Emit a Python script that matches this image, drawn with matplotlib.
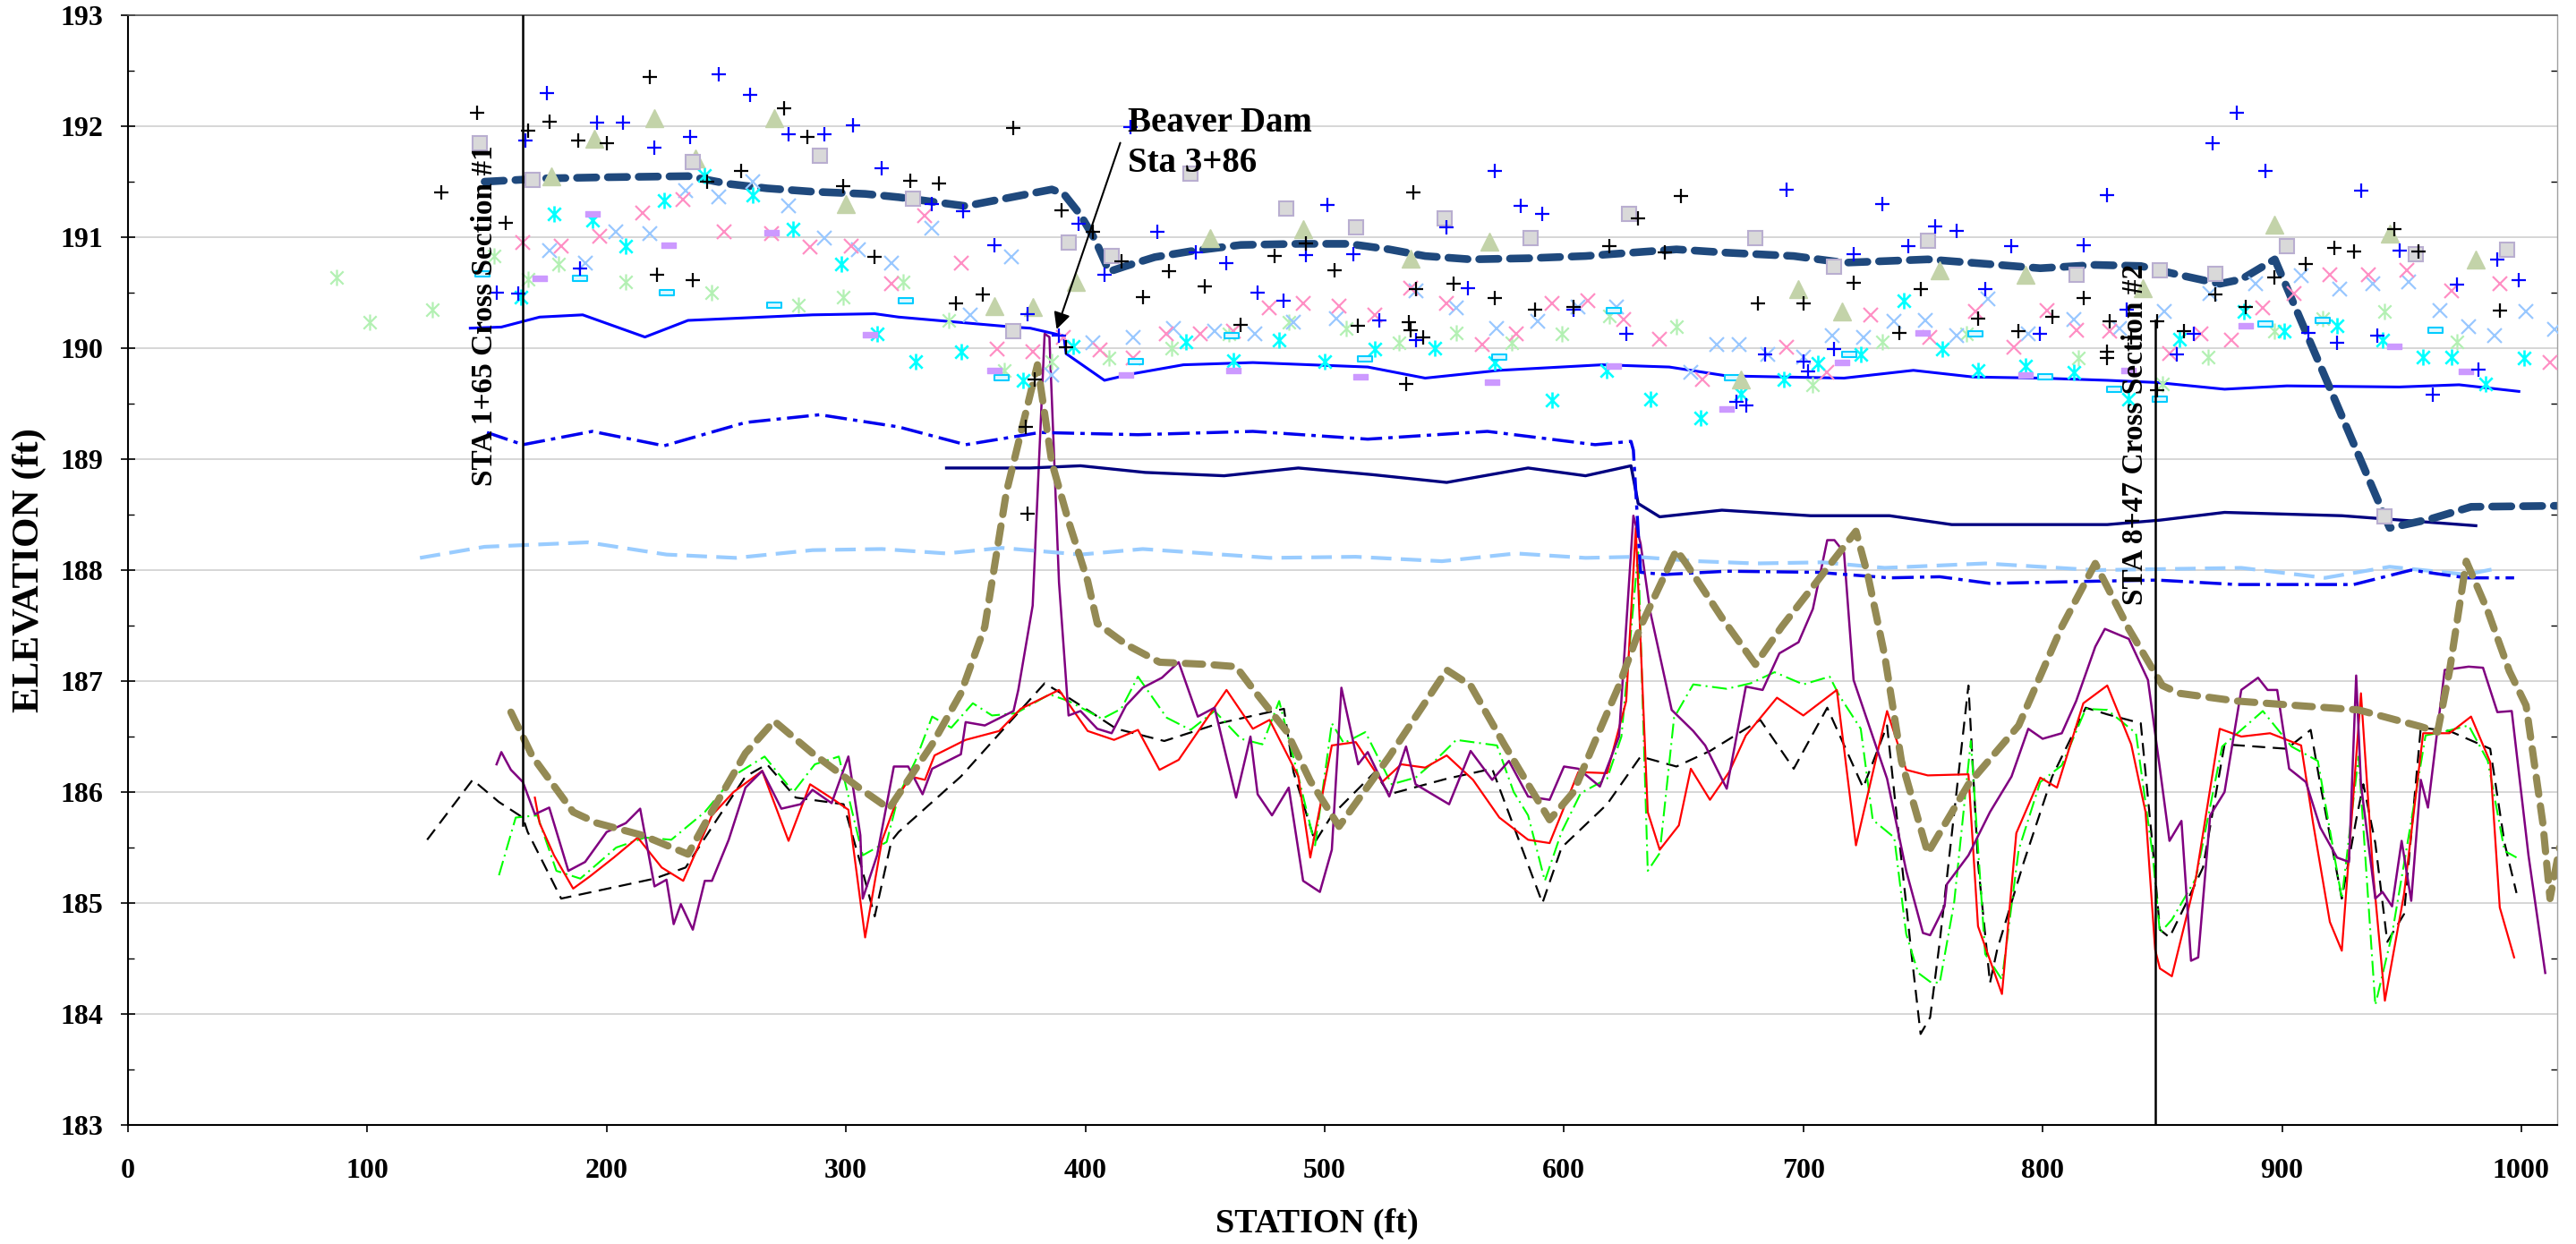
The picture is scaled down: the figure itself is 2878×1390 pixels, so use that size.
import matplotlib
matplotlib.use('Agg')
import matplotlib.pyplot as plt
from matplotlib.path import Path
from matplotlib.ticker import MultipleLocator

plt.rc('font', family=['Liberation Serif', 'DejaVu Serif'], weight='bold')

# ---- water surface profiles -------------------------------------------------
ws_high_sta = [149, 175, 200, 234, 251, 267, 286, 308, 322, 336, 350, 362, 386, 391, 398, 404, 410, 417,
               429, 446, 465, 489, 510, 527, 542, 561, 585, 609, 647, 668, 696, 717, 729, 752, 776, 799,
               822, 841, 857, 874, 883, 897, 945, 962, 979, 1018]
ws_high_elev = [191.50, 191.53, 191.54, 191.55, 191.48, 191.44, 191.41, 191.39, 191.36, 191.32, 191.28,
                191.33, 191.43, 191.39, 191.20, 190.98, 190.69, 190.74, 190.82, 190.88, 190.93, 190.94,
                190.94, 190.89, 190.83, 190.80, 190.81, 190.83, 190.89, 190.86, 190.83, 190.77, 190.78,
                190.80, 190.76, 190.72, 190.75, 190.74, 190.66, 190.58, 190.62, 190.80, 188.38, 188.46,
                188.57, 188.58]

ws_190_sta = [143, 156, 172, 190, 216, 234, 286, 312, 322, 370, 377, 391, 392, 408, 420, 441, 470, 494,
              518, 542, 573, 616, 644, 668, 717, 746, 771, 799, 827, 848, 876, 902, 949, 974, 999]
ws_190_elev = [190.18, 190.19, 190.28, 190.30, 190.10, 190.25, 190.30, 190.31, 190.28, 190.19, 190.18,
               190.11, 189.95, 189.71, 189.77, 189.85, 189.87, 189.85, 189.83, 189.73, 189.80, 189.85,
               189.83, 189.75, 189.73, 189.80, 189.74, 189.73, 189.71, 189.69, 189.63, 189.66, 189.65,
               189.67, 189.61]

ws_189_sta = [150, 165, 194, 224, 258, 289, 322, 350, 381, 422, 470, 518, 568, 613, 628, 629, 632, 642,
              668, 706, 736, 757, 778, 822, 848, 881, 921, 930, 954, 977, 997]
ws_189_elev = [189.24, 189.13, 189.25, 189.12, 189.33, 189.40, 189.29, 189.13, 189.24, 189.22, 189.25,
               189.18, 189.25, 189.13, 189.16, 189.08, 187.98, 187.96, 187.99, 187.98, 187.93, 187.94,
               187.88, 187.90, 187.91, 187.87, 187.87, 187.87, 188.00, 187.93, 187.93]

ws_1885_sta = [342, 377, 398, 425, 458, 489, 520, 551, 585, 609, 628, 631, 640, 666, 703, 736, 762, 827,
               849, 876, 925, 981]
ws_1885_elev = [188.92, 188.92, 188.94, 188.88, 188.85, 188.92, 188.86, 188.79, 188.92, 188.85, 188.94,
                188.60, 188.48, 188.54, 188.49, 188.49, 188.41, 188.41, 188.45, 188.52, 188.49, 188.40]

ws_188_sta = [122, 149, 192, 225, 254, 286, 315, 342, 365, 398, 424, 477, 513, 549, 580, 609, 630, 656,
              680, 708, 734, 776, 822, 883, 918, 945, 977, 991]
ws_188_elev = [188.11, 188.21, 188.25, 188.14, 188.11, 188.18, 188.19, 188.15, 188.20, 188.14, 188.19,
               188.11, 188.12, 188.08, 188.15, 188.11, 188.12, 188.08, 188.06, 188.07, 188.02, 188.06,
               188.00, 188.02, 187.93, 188.03, 187.96, 188.02]

# ---- thalweg / bed profiles ----------------------------------------------------
olive_sta = [160, 169, 186, 196, 215, 234, 243, 258, 270, 286, 306, 318, 336, 348, 358, 367, 380, 386,
             393, 401, 405, 417, 431, 451, 463, 470, 484, 494, 506, 527, 551, 561, 575, 585, 594, 604,
             613, 623, 632, 647, 651, 666, 680, 691, 722, 727, 734, 741, 752, 769, 790, 808, 822, 836,
             850, 857, 881, 906, 932, 958, 965, 970, 977, 986, 995, 1002, 1009, 1012, 1016]
olive_elev = [186.72, 186.32, 185.82, 185.72, 185.61, 185.44, 185.79, 186.35, 186.64, 186.35, 186.03,
              185.85, 186.43, 186.89, 187.49, 188.70, 189.85, 188.97, 188.44, 187.90, 187.52, 187.33,
              187.17, 187.15, 187.13, 186.93, 186.55, 186.10, 185.69, 186.32, 187.10, 186.96, 186.43,
              186.07, 185.75, 186.00, 186.46, 186.96, 187.49, 188.18, 188.06, 187.57, 187.15, 187.49,
              188.35, 187.95, 187.23, 186.28, 185.45, 186.07, 186.60, 187.49, 188.06, 187.47, 186.96,
              186.89, 186.82, 186.78, 186.74, 186.59, 186.54, 187.09, 188.08, 187.63, 187.09, 186.78,
              185.72, 185.04, 185.50]

purple_sta = [154, 156, 160, 165, 170, 176, 184, 191, 200, 208, 214, 220, 225, 228, 231, 236, 241, 244,
              251, 258, 265, 273, 281, 286, 294, 301, 306, 307, 313, 320, 326, 332, 336, 348, 350, 358,
              370, 372, 378, 383, 385, 389, 393, 398, 405, 411, 417, 424, 432, 439, 447, 454, 463, 469,
              472, 478, 485, 491, 498, 503, 507, 514, 518, 527, 534, 538, 552, 561, 570, 577, 585, 594,
              600, 606, 615, 623, 629, 632, 636, 645, 654, 659, 668, 676, 683, 690, 698, 704, 710, 713,
              717, 721, 735, 743, 750, 753, 759, 760, 769, 778, 787, 794, 800, 808, 814, 822, 826, 836,
              844, 849, 853, 858, 862, 865, 870, 876, 883, 890, 894, 898, 903, 910, 916, 923, 928, 931,
              933, 939, 942, 946, 950, 954, 958, 961, 968, 978, 984, 990, 996, 1003, 1010]
purple_elev = [186.25, 186.36, 186.20, 186.09, 185.80, 185.86, 185.29, 185.37, 185.64, 185.72, 185.85,
               185.15, 185.21, 184.81, 184.99, 184.76, 185.20, 185.20, 185.57, 186.04, 186.19, 185.85,
               185.89, 186.02, 185.90, 186.32, 185.61, 185.04, 185.43, 186.23, 186.23, 185.98, 186.21,
               186.34, 186.63, 186.60, 186.73, 186.92, 187.68, 190.13, 190.10, 187.89, 186.69, 186.73,
               186.57, 186.53, 186.78, 186.94, 187.03, 187.17, 186.68, 186.76, 185.95, 186.50, 185.98,
               185.79, 186.04, 185.20, 185.10, 185.48, 186.94, 186.25, 186.36, 185.96, 186.41, 186.07,
               185.89, 186.37, 186.11, 186.28, 185.96, 185.93, 186.23, 186.21, 186.05, 186.50, 188.49,
               188.24, 187.63, 186.74, 186.55, 186.42, 186.03, 186.95, 186.92, 187.25, 187.35, 187.65,
               188.27, 188.27, 188.16, 187.01, 186.12, 185.29, 184.73, 184.71, 184.97, 185.17, 185.43,
               185.82, 186.14, 186.57, 186.48, 186.53, 186.82, 187.31, 187.47, 187.38, 187.01, 186.21,
               185.56, 185.74, 184.48, 184.51, 185.79, 186.00, 186.92, 187.03, 186.92, 186.92, 186.21,
               186.09, 185.68, 185.41, 185.37, 187.05, 186.07, 185.04, 185.10, 184.97, 185.56, 185.02,
               186.11, 185.86, 187.10, 187.13, 187.12, 186.72, 186.73, 185.43, 184.37]

red_sta = [170, 172, 178, 186, 193, 203, 213, 223, 232, 244, 253, 265, 276, 285, 295, 301, 308, 315,
           322, 327, 333, 337, 350, 364, 373, 389, 401, 412, 422, 431, 439, 459, 470, 477, 489, 494,
           503, 513, 524, 532, 542, 551, 562, 573, 585, 594, 606, 618, 626, 630, 635, 640, 648, 653,
           661, 669, 676, 689, 700, 714, 722, 735, 743, 752, 769, 773, 783, 789, 799, 806, 817, 827,
           837, 843, 847, 849, 854, 864, 874, 883, 895, 908, 913, 920, 925, 933, 938, 943, 951, 959,
           970, 979, 987, 991, 997]
red_elev = [185.95, 185.72, 185.43, 185.13, 185.24, 185.41, 185.59, 185.32, 185.20, 185.79, 186.00,
            186.19, 185.56, 186.07, 185.93, 185.84, 184.69, 185.56, 185.97, 186.14, 186.11, 186.33,
            186.47, 186.55, 186.75, 186.92, 186.55, 186.47, 186.56, 186.20, 186.29, 186.92, 186.57,
            186.65, 186.14, 185.41, 186.42, 186.45, 186.09, 186.25, 186.22, 186.33, 186.11, 185.77,
            185.57, 185.54, 186.18, 186.17, 186.82, 188.38, 185.82, 185.48, 185.70, 186.21, 185.93,
            186.18, 186.51, 186.85, 186.69, 186.92, 185.52, 186.73, 186.20, 186.15, 186.16, 184.79,
            184.18, 185.63, 186.13, 186.04, 186.80, 186.96, 186.43, 185.82, 184.58, 184.41, 184.34,
            185.22, 186.57, 186.50, 186.53, 186.42, 185.72, 184.83, 184.57, 186.89, 185.29, 184.12,
            185.08, 186.53, 186.53, 186.68, 186.27, 184.96, 184.51]

green_sta = [155, 162, 171, 179, 189, 204, 216, 227, 241, 254, 266, 278, 287, 297, 307, 317, 322, 329,
             336, 344, 353, 361, 371, 385, 393, 407, 415, 422, 434, 444, 454, 465, 474, 481, 489, 496,
             503, 508, 517, 528, 538, 546, 555, 572, 579, 585, 592, 599, 607, 618, 624, 631, 635, 640,
             646, 654, 668, 678, 688, 700, 711, 715, 724, 729, 738, 743, 748, 753, 757, 763, 770, 776,
             783, 790, 799, 808, 818, 827, 839, 846, 849, 854, 864, 875, 892, 904, 915, 925, 932, 939,
             946, 953, 960, 967, 978, 986, 993, 998]
green_elev = [185.25, 185.77, 185.79, 185.29, 185.22, 185.50, 185.59, 185.57, 185.82, 186.16, 186.32,
              186.00, 186.25, 186.32, 185.43, 185.55, 185.97, 186.28, 186.68, 186.58, 186.80, 186.69,
              186.71, 186.88, 186.82, 186.66, 186.75, 187.04, 186.67, 186.56, 186.73, 186.48, 186.43,
              186.82, 186.14, 185.52, 186.62, 186.44, 186.54, 186.07, 186.13, 186.28, 186.47, 186.42,
              186.00, 185.79, 185.20, 185.64, 185.99, 186.12, 186.50, 188.16, 185.29, 185.45, 186.67,
              186.97, 186.93, 186.98, 187.08, 186.97, 187.04, 186.87, 186.57, 185.75, 185.59, 184.72,
              184.37, 184.29, 184.28, 185.00, 186.46, 184.54, 184.31, 185.48, 186.09, 186.24, 186.75,
              186.74, 186.53, 185.43, 184.73, 184.85, 185.22, 186.41, 186.73, 186.41, 186.28, 185.04,
              186.32, 184.08, 184.72, 185.61, 186.51, 186.54, 186.60, 186.28, 185.47, 185.41]

black_sta = [125, 144, 155, 165, 167, 181, 220, 233, 246, 258, 267, 279, 299, 306, 312, 319, 322, 348,
             383, 393, 413, 433, 456, 483, 487, 496, 503, 521, 527, 551, 570, 591, 599, 618, 632, 647,
             661, 682, 696, 710, 725, 735, 745, 749, 753, 757, 769, 773, 778, 781, 792, 804, 818, 827,
             841, 846, 849, 853, 860, 867, 876, 902, 912, 916, 925, 931, 934, 939, 944, 951, 958, 970,
             987, 993, 998]
black_elev = [185.57, 186.11, 185.91, 185.77, 185.64, 185.04, 185.22, 185.32, 185.75, 186.14, 186.25,
              185.95, 185.89, 185.36, 184.88, 185.56, 185.64, 186.14, 186.98, 186.85, 186.57, 186.46,
              186.62, 186.75, 186.18, 185.55, 185.79, 186.18, 185.98, 186.12, 186.21, 185.00, 185.50,
              185.89, 186.32, 186.23, 186.37, 186.65, 186.21, 186.76, 186.04, 186.60, 184.58, 183.82,
              183.97, 184.65, 186.96, 185.36, 184.28, 184.58, 185.36, 186.14, 186.76, 186.70, 186.62,
              185.50, 184.76, 184.69, 185.00, 185.32, 186.43, 186.39, 186.56, 186.07, 185.04, 185.75,
              186.07, 185.54, 184.65, 184.90, 186.58, 186.55, 186.39, 185.54, 185.09]

# ---- surveyed points -------------------------------------------------------------
pt_black_plus = [(146, 192.12), (131, 191.40), (167, 191.96), (176, 192.04), (188, 191.87), (200, 191.85),
                 (218, 192.44), (242, 191.50), (256, 191.60), (274, 192.16), (284, 191.90), (299, 191.46),
                 (312, 190.82), (158, 191.13), (221, 190.66), (236, 190.61), (327, 191.51), (339, 191.48),
                 (370, 191.98), (390, 191.24), (403, 191.05), (415, 190.78), (357, 190.48), (346, 190.40),
                 (379, 189.72), (392, 190.01), (435, 190.69), (424, 190.46), (450, 190.56), (465, 190.21),
                 (479, 190.83), (492, 190.94), (504, 190.70), (537, 191.40), (514, 190.20), (535, 190.23),
                 (536, 190.16), (541, 190.10), (534, 189.68), (538, 190.53), (554, 190.58), (571, 190.45),
                 (588, 190.35), (604, 190.37), (619, 190.92), (631, 191.17), (642, 190.86), (649, 191.37),
                 (375, 189.29), (376, 188.51), (681, 190.40), (700, 190.40), (721, 190.59), (749, 190.53),
                 (740, 190.14), (773, 190.27), (790, 190.15), (804, 190.28), (817, 190.45), (827, 189.97),
                 (827, 189.91), (828, 190.24), (837, 190.10), (848, 190.24), (848, 189.62), (859, 190.15),
                 (872, 190.48), (885, 190.37), (897, 190.64), (910, 190.76), (922, 190.90), (930, 190.87),
                 (947, 191.07), (957, 190.87), (991, 190.34)]
pt_blue_plus = [(175, 192.30), (166, 191.87), (196, 192.03), (207, 192.03), (220, 191.81), (235, 191.90),
                (247, 192.47), (260, 192.28), (276, 191.93), (291, 191.93), (303, 192.01), (315, 191.62),
                (189, 190.72), (154, 190.50), (163, 190.49), (419, 191.99), (336, 191.30), (349, 191.23),
                (362, 190.93), (397, 191.12), (408, 190.66), (430, 191.05), (446, 190.86), (459, 190.77),
                (501, 191.29), (492, 190.84), (512, 190.85), (551, 191.09), (571, 191.60), (582, 191.28),
                (591, 191.21), (472, 190.50), (483, 190.43), (523, 190.25), (538, 190.07), (560, 190.54),
                (604, 190.35), (626, 190.13), (389, 190.11), (376, 190.31), (693, 191.43), (733, 191.30),
                (755, 191.10), (764, 191.06), (744, 190.92), (721, 190.85), (787, 190.92), (817, 190.93),
                (827, 191.38), (776, 190.53), (799, 190.13), (835, 190.35), (856, 189.94), (863, 190.13),
                (871, 191.85), (881, 192.12), (893, 191.60), (933, 191.42), (949, 190.88), (973, 190.57),
                (990, 190.80), (999, 190.61), (911, 190.14), (923, 190.05), (940, 190.11), (982, 189.81),
                (963, 189.58), (713, 189.99), (700, 189.88), (702, 189.79), (684, 189.94), (672, 189.52),
                (676, 189.48)]
pt_square = [(147, 191.85), (169, 191.52), (236, 191.68), (289, 191.73), (328, 191.35), (393, 190.95),
             (411, 190.83), (370, 190.15), (444, 191.57), (484, 191.26), (513, 191.09), (550, 191.17),
             (586, 190.99), (627, 191.21), (680, 190.99), (713, 190.73), (752, 190.97), (814, 190.66),
             (849, 190.70), (872, 190.67), (902, 190.92), (956, 190.85), (994, 190.89), (943, 188.48)]
pt_triangle = [(177, 191.55), (195, 191.89), (220, 192.07), (237, 191.71), (270, 192.07), (300, 191.30),
               (362, 190.38), (378, 190.37), (396, 190.60), (452, 190.99), (491, 191.07), (536, 190.81),
               (569, 190.96), (674, 189.72), (698, 190.53), (716, 190.33), (757, 190.70), (793, 190.66),
               (842, 190.54), (897, 191.11), (945, 191.03), (981, 190.80)]
pt_pink_x = [(165, 190.95), (181, 190.92), (197, 191.01), (215, 191.22), (232, 191.34), (249, 191.05),
             (269, 191.03), (285, 190.91), (302, 190.92), (319, 190.58), (333, 191.19), (348, 190.77),
             (363, 189.99), (378, 189.97), (391, 190.10), (406, 189.98), (420, 189.91), (434, 190.13),
             (448, 190.13), (462, 190.15), (477, 190.36), (491, 190.40), (506, 190.38), (521, 190.30),
             (536, 190.54), (551, 190.40), (566, 190.03), (580, 190.13), (595, 190.40), (610, 190.43),
             (625, 190.26), (640, 190.08), (658, 189.72), (693, 190.01), (710, 189.78), (728, 190.30),
             (753, 190.10), (772, 190.33), (788, 190.01), (802, 190.34), (814, 190.16), (828, 190.15),
             (853, 189.95), (866, 190.13), (879, 190.07), (892, 190.36), (905, 190.49), (920, 190.66),
             (936, 190.66), (952, 190.70), (971, 190.52), (991, 190.58), (1012, 189.87)]
pt_ltblue_x = [(176, 190.88), (191, 190.77), (204, 191.05), (218, 191.03), (233, 191.42), (247, 191.36),
               (261, 191.50), (276, 191.28), (291, 190.99), (305, 190.89), (319, 190.77), (336, 191.08),
               (352, 190.30), (369, 190.82), (386, 189.76), (403, 190.05), (420, 190.10), (437, 190.18),
               (454, 190.15), (471, 190.13), (487, 190.23), (505, 190.27), (538, 190.52), (555, 190.36),
               (572, 190.18), (589, 190.24), (606, 190.37), (622, 190.37), (653, 189.78), (664, 190.03),
               (673, 190.03), (685, 189.94), (700, 189.92), (712, 190.11), (725, 190.10), (738, 190.24),
               (751, 190.25), (764, 190.11), (777, 190.44), (794, 190.13), (813, 190.26), (832, 190.18),
               (851, 190.33), (870, 190.49), (889, 190.58), (908, 190.65), (924, 190.53), (938, 190.58),
               (953, 190.60), (966, 190.34), (978, 190.19), (989, 190.11), (1002, 190.33), (1014, 190.17)]
pt_cyan_star = [(164, 190.46), (178, 191.21), (194, 191.15), (208, 190.92), (224, 191.33), (241, 191.56),
                (261, 191.38), (278, 191.07), (298, 190.76), (313, 190.13), (329, 189.88), (348, 189.97),
                (374, 189.71), (395, 190.02), (442, 190.06), (462, 189.89), (481, 190.07), (500, 189.88),
                (521, 189.99), (546, 190.00), (571, 189.87), (595, 189.53), (618, 189.80), (636, 189.54),
                (657, 189.37), (674, 189.59), (692, 189.72), (706, 189.86), (724, 189.94), (742, 190.43),
                (758, 189.99), (773, 189.80), (793, 189.84), (813, 189.78), (836, 189.54), (857, 190.08),
                (884, 190.33), (901, 190.15), (923, 190.20), (942, 190.07), (959, 189.92), (971, 189.92),
                (985, 189.68), (1001, 189.91)]
pt_green_star = [(87, 190.64), (101, 190.23), (127, 190.35), (153, 190.83), (167, 190.62), (180, 190.76),
                 (208, 190.60), (244, 190.50), (280, 190.39), (299, 190.46), (324, 190.60), (343, 190.25),
                 (366, 189.80), (386, 189.88), (410, 189.91), (436, 190.00), (460, 190.13), (485, 190.23),
                 (509, 190.18), (531, 190.05), (555, 190.14), (578, 190.05), (599, 190.13), (619, 190.29),
                 (647, 190.19), (704, 189.67), (733, 190.06), (768, 190.13), (815, 189.91), (850, 189.68),
                 (869, 189.92), (897, 190.15), (917, 190.27), (943, 190.33), (973, 190.06)]
pt_cyan_dash = [(148, 190.67), (189, 190.63), (225, 190.50), (270, 190.39), (325, 190.43), (365, 189.73),
                (421, 189.88), (461, 190.11), (517, 189.90), (573, 189.92), (621, 190.34), (670, 189.73),
                (719, 189.94), (772, 190.13), (801, 189.74), (830, 189.63), (849, 189.54), (893, 190.22),
                (917, 190.25), (964, 190.16)]
pt_lav_dash = [(172, 190.63), (194, 191.21), (226, 190.93), (269, 191.04), (310, 190.12), (362, 189.80),
               (417, 189.76), (462, 189.80), (515, 189.74), (570, 189.69), (621, 189.84), (668, 189.45),
               (716, 189.87), (750, 190.14), (793, 189.76), (836, 189.80), (885, 190.20), (947, 190.02),
               (977, 189.79)]

xs1_sta = 165
xs2_sta = 847
x_ticks = list(range(0, 1001, 100))
y_ticks = list(range(183, 194))

# ---- figure ----------------------------------------------------------------------
W, H = 2878, 1390
fig = plt.figure(figsize=(W / 100.0, H / 100.0), dpi=100)
L, R, T, B = 143, 2857, 17, 1257
ax = fig.add_axes([L / W, 1 - B / H, (R - L) / W, (B - T) / H])

# bed lines (thin)
ax.plot(black_sta, black_elev, color='black', lw=1.6, dashes=(6.5, 3.8), zorder=2)
ax.plot(green_sta, green_elev, color='#00FF00', lw=1.5, dashes=(8, 2.5, 1, 2.5), zorder=2)
ax.plot(red_sta, red_elev, color='#FF0000', lw=1.6, zorder=2)
ax.plot(purple_sta, purple_elev, color='#800080', lw=1.8, zorder=2)

# water surface lines
ax.plot(ws_188_sta, ws_188_elev, color='#99CCFF', lw=3, dashes=(5.5, 2.5), zorder=2)
ax.plot(ws_1885_sta, ws_1885_elev, color='#000080', lw=2.4, zorder=2)
ax.plot(ws_189_sta, ws_189_elev, color='#0000EE', lw=2.5, dashes=(7, 2, 1.4, 2), zorder=2)
ax.plot(ws_190_sta, ws_190_elev, color='#0000FF', lw=2.2, zorder=2)
ax.plot(olive_sta, olive_elev, color='#948A54', lw=5.8, dashes=(2.4, 1.6), dash_capstyle='round', zorder=2.5)
ax.plot(ws_high_sta, ws_high_elev, color='#1F497D', lw=6.2, dashes=(2.5, 1.5), dash_capstyle='round', zorder=2.5)

# markers
star = Path([(-1, -1), (1, 1), (-1, 1), (1, -1), (0, -1.25), (0, 1.25)],
            [Path.MOVETO, Path.LINETO, Path.MOVETO, Path.LINETO, Path.MOVETO, Path.LINETO])
dash = Path([(-1, -0.32), (1, -0.32), (1, 0.32), (-1, 0.32), (-1, -0.32)],
            [Path.MOVETO, Path.LINETO, Path.LINETO, Path.LINETO, Path.CLOSEPOLY])


def pts(ax, data, **kw):
    xs = [p[0] for p in data]
    ys = [p[1] for p in data]
    ax.plot(xs, ys, linestyle='none', zorder=3, **kw)


pts(ax, pt_green_star, marker=star, ms=13, mfc='none', mec='#B3F0B3', mew=1.6)
pts(ax, pt_ltblue_x, marker='x', ms=11, mec='#99C8FF', mew=1.6)
pts(ax, pt_pink_x, marker='x', ms=11, mec='#FF8FC4', mew=1.6)
pts(ax, pt_cyan_star, marker=star, ms=13, mfc='none', mec='#00FFFF', mew=1.9)
pts(ax, pt_cyan_dash, marker=dash, ms=12, mfc='#E0F8FF', mec='#00CCFF', mew=1.5)
pts(ax, pt_lav_dash, marker=dash, ms=12, mfc='#CC99FF', mec='#CC99FF', mew=1)
pts(ax, pt_triangle, marker='^', ms=15, mfc='#C3D3A9', mec='#C3D3A9', mew=1)
pts(ax, pt_square, marker='s', ms=11, mfc='#D9D9D9', mec='#B9AED0', mew=1.5)
pts(ax, pt_blue_plus, marker='+', ms=12, mec='#0000FF', mew=1.6)
pts(ax, pt_black_plus, marker='+', ms=12, mec='black', mew=1.6)

# cross section lines
ax.plot([xs1_sta, xs1_sta], [185.7, 193], color='black', lw=1.8, zorder=4)
ax.plot([xs2_sta, xs2_sta], [183, 190.25], color='black', lw=1.8, zorder=4)
ax.text(149, 190.29, 'STA 1+65 Cross Section #1', rotation=90, ha='center', va='center',
        fontsize=24, zorder=5)
ax.text(838.5, 189.22, 'STA 8+47 Cross Section #2', rotation=90, ha='center', va='center',
        fontsize=24, zorder=5)

# beaver dam callout
ax.text(417.6, 191.95, 'Beaver Dam', fontsize=28, ha='left', va='baseline', zorder=5)
ax.text(417.6, 191.59, 'Sta 3+86', fontsize=28, ha='left', va='baseline', zorder=5)
ax.annotate('', xy=(388, 190.17), xytext=(414.6, 191.85),
            arrowprops=dict(arrowstyle='-|>', color='black', lw=1.5, mutation_scale=28,
                            shrinkA=0, shrinkB=0), zorder=5)

# axes styling
ax.set_xlim(0, 1015)
ax.set_ylim(183, 193)
ax.set_xticks(x_ticks)
ax.set_yticks(y_ticks)
ax.yaxis.set_minor_locator(MultipleLocator(0.5))
ax.yaxis.grid(True, which='major', color='#D0D0D0', lw=1.2)
ax.set_axisbelow(True)

ax.tick_params(axis='x', which='major', direction='out', length=5.8, width=1.2, pad=21, labelsize=23)
ax.tick_params(axis='y', which='major', direction='inout', length=11.5, width=1.2, pad=14.4,
               labelsize=23, right=False)
ax.tick_params(axis='y', which='minor', direction='in', length=5, width=1.0, left=True, right=True)
for lab in ax.get_xticklabels() + ax.get_yticklabels():
    lab.set_fontweight('bold')

ax.spines['left'].set_linewidth(1.5)
ax.spines['bottom'].set_linewidth(1.5)
ax.spines['top'].set_color('#555555')
ax.spines['top'].set_linewidth(1.2)
ax.spines['right'].set_color('#A0A0A0')
ax.spines['right'].set_linewidth(1.0)

ax.set_ylabel('ELEVATION (ft)', fontsize=31, fontweight='bold')
ax.yaxis.label.set(va='center', ha='center', rotation_mode='anchor')
ax.yaxis.set_label_coords((33 - L) / (R - L), 0.5)
ax.set_xlabel('STATION (ft)', fontsize=27.5, fontweight='bold')
ax.xaxis.label.set(va='baseline', ha='center')
ax.xaxis.set_label_coords((1471 - L) / (R - L), -(1377 - B) / (B - T))

fig.savefig('out.png', dpi=100)
